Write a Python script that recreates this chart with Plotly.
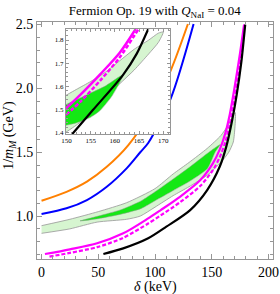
import plotly.graph_objects as go

# ---------------- main panel data ----------------
orange_d = [0, 22, 40, 57.5, 76.5, 95, 114, 129]
orange_y = [1.12, 1.19, 1.27, 1.386, 1.556, 1.80, 2.144, 2.504]

blue_d = [0, 22, 40, 57.5, 75, 87, 94, 114, 134]
blue_y = [1.016, 1.061, 1.126, 1.23, 1.374, 1.50, 1.572, 1.924, 2.504]

mag_d = [3, 25, 49, 72, 94, 105, 122, 140, 151, 157, 162, 166, 170, 174.5, 178.5]
mag_y = [0.703, 0.74, 0.787, 0.865, 0.982, 1.047, 1.151, 1.282, 1.413, 1.52, 1.65, 1.8, 2.0, 2.25, 2.5]

magd_d = [7, 25, 49, 72, 94, 105, 122, 140, 151, 157, 162, 166, 170, 174.5, 179]
magd_y = [0.683, 0.712, 0.757, 0.830, 0.942, 1.005, 1.108, 1.237, 1.36, 1.46, 1.58, 1.72, 1.92, 2.17, 2.5]

black_d = [54.5, 72, 94, 110, 131, 146, 157, 163, 168, 172, 176, 179.5]
black_y = [0.703, 0.747, 0.826, 0.917, 1.047, 1.204, 1.386, 1.55, 1.75, 1.95, 2.2, 2.5]

light_d = [0, 25, 50, 75, 100, 116, 130, 146, 158, 165, 169, 170.8,
           170.5, 169, 165, 158, 146, 130, 116, 100, 87, 75, 49, 25, 0]
light_y = [0.925, 0.975, 1.035, 1.105, 1.215, 1.33, 1.42, 1.53, 1.63, 1.72, 1.79, 1.81,
           1.70, 1.58, 1.50, 1.42, 1.32, 1.23, 1.16, 1.07, 1.0, 0.975, 0.953, 0.9, 0.865]

green_d = [34, 50, 70, 88, 100, 116, 130, 146, 153, 157.5,
           153, 146, 130, 116, 100, 88, 70, 50, 34]
green_y = [0.962, 1.0, 1.05, 1.12, 1.19, 1.29, 1.38, 1.49, 1.535, 1.56,
           1.50, 1.37, 1.27, 1.20, 1.12, 1.06, 1.015, 0.98, 0.962]

# ---------------- inset data ----------------
in_light_d = [149.9, 152, 155, 158, 161, 164, 167, 169, 170,
              169, 167, 164, 161, 158, 155, 152, 149.9]
in_light_y = [1.56, 1.585, 1.62, 1.66, 1.71, 1.76, 1.80, 1.83, 1.835,
              1.79, 1.74, 1.67, 1.61, 1.55, 1.48, 1.43, 1.40]

in_green_d = [149.9, 155, 158, 161.7, 159.5, 157, 155, 152, 149.9]
in_green_y = [1.52, 1.57, 1.60, 1.649, 1.56, 1.495, 1.465, 1.44, 1.43]

in_mag_d = [149.9, 153, 157, 161, 164.3]
in_mag_y = [1.503, 1.565, 1.652, 1.745, 1.848]

in_magd_d = [149.9, 153, 157, 161, 164.9]
in_magd_y = [1.475, 1.535, 1.625, 1.725, 1.848]

in_black_d = [151.2, 155.5, 161.7, 164.5, 166.9]
in_black_y = [1.392, 1.497, 1.649, 1.74, 1.848]

x_ticks = [0, 50, 100, 150, 200]
y_ticks = [1.0, 1.5, 2.0, 2.5]
y_tick_text = ["1.0", "1.5", "2.0", "2.5"]
in_x_ticks = [150, 155, 160, 165, 170]
in_y_ticks = [1.4, 1.5, 1.6, 1.7, 1.8]

LIGHT = "rgb(214,245,208)"
GREEN = "rgb(20,232,20)"
OUTL = "rgb(150,150,150)"
FRAME = "rgb(150,150,150)"
FONT = "Liberation Serif"

fig = go.Figure()

def band(xs, ys, color, xa="x", ya="y", lw=0.8):
    fig.add_trace(go.Scatter(x=xs, y=ys, mode="lines", fill="toself", fillcolor=color,
                             line=dict(color=OUTL, width=lw, shape="spline", smoothing=0.6),
                             xaxis=xa, yaxis=ya, hoverinfo="skip", showlegend=False))

def curve(xs, ys, color, width=2, dash="solid", xa="x", ya="y"):
    fig.add_trace(go.Scatter(x=xs, y=ys, mode="lines",
                             line=dict(color=color, width=width, dash=dash, shape="spline", smoothing=0.8),
                             xaxis=xa, yaxis=ya, hoverinfo="skip", showlegend=False))

band(light_d, light_y, LIGHT)
band(green_d, green_y, GREEN, lw=0.5)
curve(orange_d, orange_y, "#ff8000")
curve(blue_d, blue_y, "#0000ff")
curve(mag_d, mag_y, "#ff00ff", 2.2)
curve(magd_d, magd_y, "#ff00ff", 2.2, dash="4px,2px")
curve(black_d, black_y, "black", 2.2)

band(in_light_d, in_light_y, LIGHT, "x2", "y2")
band(in_green_d, in_green_y, GREEN, "x2", "y2", lw=0.5)
curve(in_mag_d, in_mag_y, "#ff00ff", 2.5, xa="x2", ya="y2")
curve(in_magd_d, in_magd_y, "#ff00ff", 2.5, dash="4px,2px", xa="x2", ya="y2")
curve(in_black_d, in_black_y, "black", 2.2, xa="x2", ya="y2")

axis_common = dict(showgrid=False, zeroline=False, showline=True, linecolor=FRAME, automargin=False,
                   linewidth=1, mirror="ticks", ticks="inside", tickcolor=FRAME,
                   tickfont=dict(family=FONT, size=14, color="black"))
inset_common = dict(showgrid=False, zeroline=False, showline=True, linecolor=FRAME, linewidth=1,
                    automargin=False, mirror="ticks", ticks="inside", tickcolor=FRAME, ticklen=3,
                    tickfont=dict(family=FONT, size=7, color="black"))

fig.update_layout(
    width=280, height=294,
    margin=dict(l=37, r=7, t=22, b=35),
    paper_bgcolor="white", plot_bgcolor="white",
    title=dict(text="Fermion Op. 19 with <i>Q</i><sub>NaI</sub> = 0.04",
               x=0.553, xanchor="center", y=0.965, yanchor="middle",
               font=dict(family=FONT, size=13, color="black")),
    xaxis=dict(**axis_common, range=[-4, 204], tickvals=x_ticks, ticklen=5,
               minor=dict(dtick=10, ticklen=3, ticks="inside", tickcolor=FRAME)),
    yaxis=dict(**axis_common, range=[0.664, 2.52], tickvals=y_ticks, ticktext=y_tick_text,
               ticklen=5,
               minor=dict(dtick=0.1, ticklen=3, ticks="inside", tickcolor=FRAME)),
    xaxis2=dict(**inset_common, domain=[0.1229, 0.5636], anchor="y2", range=[149.9, 171.4],
                tickvals=in_x_ticks,
                minor=dict(dtick=1, ticklen=2, ticks="inside", tickcolor=FRAME)),
    yaxis2=dict(**inset_common, domain=[0.5274, 0.9705], anchor="x2", range=[1.392, 1.848],
                tickvals=in_y_ticks,
                minor=dict(dtick=0.02, ticklen=2, ticks="inside", tickcolor=FRAME)),
    annotations=[
        dict(text="<i>δ</i> (keV)", xref="paper", yref="paper", x=0.5, y=-0.12,
             xanchor="center", yanchor="middle", showarrow=False,
             font=dict(family=FONT, size=14, color="black")),
        dict(text="1/<i>m</i><sub><i>M</i></sub> (GeV)", xref="paper", yref="paper", x=-0.114, y=0.52,
             xanchor="center", yanchor="middle", showarrow=False, textangle=-90,
             font=dict(family=FONT, size=14, color="black")),
    ],
)

fig.write_html("out.html", config={"displayModeBar": False, "staticPlot": True},
               post_script="document.body.style.margin='0';")
